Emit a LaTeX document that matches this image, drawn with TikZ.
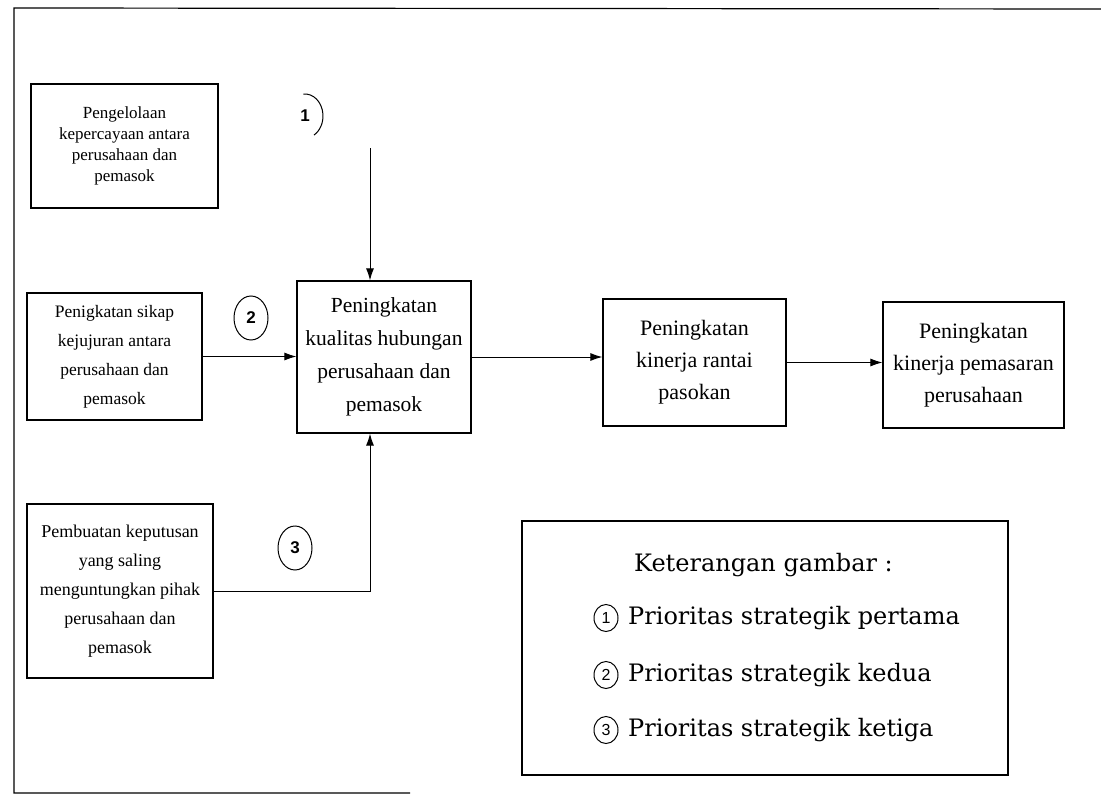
\documentclass[tikz,border=0pt]{standalone}
\usepackage{fontspec}
\setmainfont{Liberation Serif}
\newfontfamily\numfont{Liberation Sans}
\newfontfamily\legfont{DejaVu Serif}
\usetikzlibrary{arrows.meta,shapes.geometric}

\tikzset{
  box/.style={draw, line width=1.1pt, inner sep=0pt, align=center},
  smalltext/.style={font=\fontsize{17}{21}\selectfont},
  midtext/.style={font=\fontsize{17.5}{29}\selectfont},
  bigtext/.style={font=\fontsize{21.5}{33}\selectfont},
  arr/.style={line width=1pt, -{Latex[length=12pt,width=8pt]}},
  numbig/.style={draw, ellipse, line width=1pt, minimum width=34pt, minimum height=44pt,
    inner sep=0pt, font=\numfont\bfseries\fontsize{17}{17}\selectfont},
  numsmall/.style={draw, ellipse, line width=1pt, minimum width=24pt, minimum height=27pt,
    inner sep=0pt, font=\numfont\fontsize{16}{16}\selectfont},
  legtext/.style={anchor=west, inner sep=0pt, font=\legfont\fontsize{24}{24}\selectfont}
}

\begin{document}
\begin{tikzpicture}[x=1pt, y=-1pt]
\useasboundingbox (0,0) rectangle (1101,800);
\fill[white] (0,0) rectangle (1101,800);

% outer frame (open on the right)
\draw[line width=1.2pt] (1101,9) -- (14,8) -- (14,793) -- (410,793);

% input factors
\node[box, smalltext, minimum width=187pt, minimum height=124pt] (fa) at (124.5,146)
  {Pengelolaan\\kepercayaan antara\\perusahaan dan\\pemasok};
\node[box, midtext, minimum width=175pt, minimum height=127pt] (fb) at (114.5,356.5)
  {Penigkatan sikap\\kejujuran antara\\perusahaan dan\\pemasok};
\node[box, font=\fontsize{18}{29}\selectfont, minimum width=186pt, minimum height=174pt] (fc) at (120,591)
  {Pembuatan keputusan\\yang saling\\menguntungkan pihak\\perusahaan dan\\pemasok};

% outcome chain
\node[box, bigtext, minimum width=174pt, minimum height=152pt] (qual) at (384,357)
  {Peningkatan\\kualitas hubungan\\perusahaan dan\\pemasok};
\node[box, font=\fontsize{22}{32}\selectfont, minimum width=183pt, minimum height=127pt] (rantai) at (694.5,362.5)
  {Peningkatan\\kinerja rantai\\pasokan};
\node[box, font=\fontsize{22}{32}\selectfont, minimum width=181pt, minimum height=126pt] (pasar) at (973.5,365)
  {Peningkatan\\kinerja pemasaran\\perusahaan};

% connectors
\coordinate (top) at (370,148);
\draw[arr] (top) -- (top |- qual.north);
\draw[arr] (fb.east) -- (fb.east -| qual.west);
\draw[arr] (fc.east) -- (fc.east -| top) -- (top |- qual.south);
\draw[arr] (qual.east) -- (qual.east -| rantai.west);
\draw[arr] (rantai.east) -- (rantai.east -| pasar.west);

% priority markers
\node[inner sep=0pt, font=\numfont\bfseries\fontsize{17}{17}\selectfont] (p1) at (305,116) {1};
\draw[line width=1pt] (p1) ++(-95:18 and 22) arc[start angle=-95, end angle=60, x radius=18, y radius=22];
\node[numbig] (p2) at (251,318) {2};
\node[numbig] (p3) at (295,548) {3};

% legend
\node[draw, line width=1.1pt, minimum width=486pt, minimum height=254pt, inner sep=0pt] (leg) at (765,648) {};
\node[legtext] (legtitle) at (634,565) {Keterangan gambar :};
\node[numsmall] (l1) at (606,618) {1};
\node[numsmall] (l2) at (606,675) {2};
\node[numsmall] (l3) at (606,730) {3};
\node[legtext] (t1) at (628,618) {Prioritas strategik pertama};
\node[legtext] (t2) at (628,675) {Prioritas strategik kedua};
\node[legtext] (t3) at (628,730) {Prioritas strategik ketiga};
\end{tikzpicture}
\end{document}
